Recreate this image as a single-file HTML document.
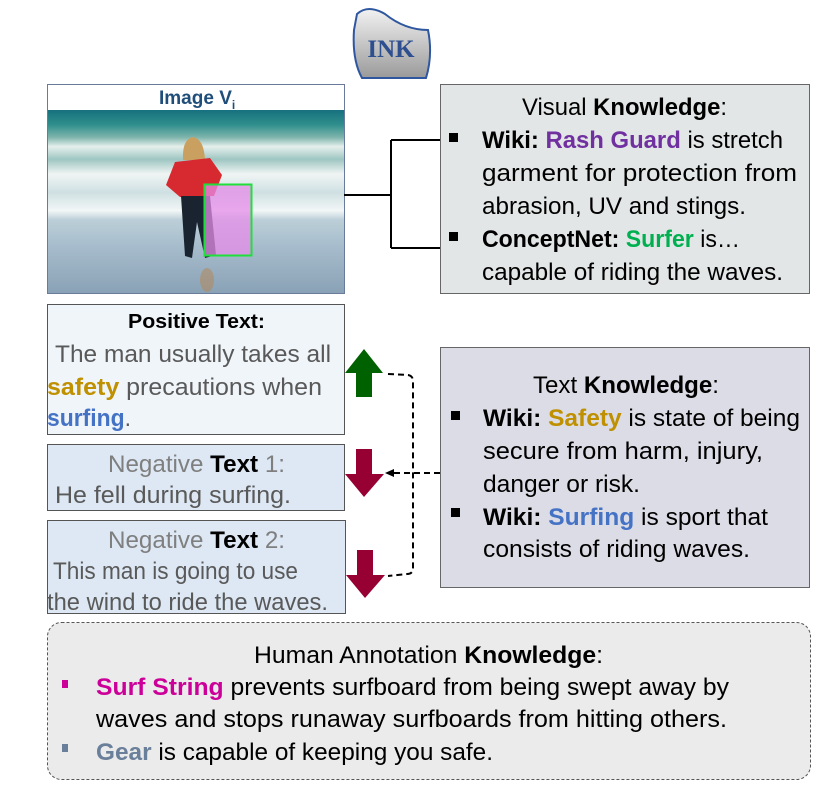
<!DOCTYPE html>
<html><head><meta charset="utf-8"><style>
html,body{margin:0;padding:0;background:#fff;}
svg{display:block;}
text{font-family:"Liberation Sans",sans-serif;}
</style></head><body>
<svg width="832" height="792" viewBox="0 0 832 792" xmlns="http://www.w3.org/2000/svg">
<defs>
<linearGradient id="ink" x1="0" y1="0" x2="0" y2="1"><stop offset="0" stop-color="#f2f2f2"/><stop offset="1" stop-color="#9a9a9a"/></linearGradient>
<linearGradient id="sea" x1="0" y1="0" x2="0" y2="1">
<stop offset="0" stop-color="#16707e"/><stop offset="0.08" stop-color="#2f8f8c"/><stop offset="0.15" stop-color="#7fb5ad"/><stop offset="0.2" stop-color="#e6efec"/><stop offset="0.27" stop-color="#9ec6c2"/><stop offset="0.35" stop-color="#f0f5f4"/><stop offset="0.45" stop-color="#cfe0e2"/><stop offset="0.55" stop-color="#f2f6f6"/><stop offset="0.6" stop-color="#bccfd8"/><stop offset="0.75" stop-color="#a6bccc"/><stop offset="1" stop-color="#8aa2b6"/></linearGradient>
</defs>
<!-- INK -->
<path d="M357,14 Q368,4 385,14 Q405,30 428,30 Q433,55 426,78 L362,78 Q352,60 354,30 Z" fill="url(#ink)" stroke="#2f57a0" stroke-width="2"/>
<text x="391" y="57" font-weight="bold" font-size="25" fill="#2e4f8f" text-anchor="middle" style="font-family:'Liberation Serif',serif">INK</text>

<!-- Image -->
<rect x="47.5" y="84.5" width="297" height="209" fill="#fff" stroke="#6a7a9a"/>
<text x="159" y="104" font-size="19" font-weight="bold" fill="#1f4e79">Image V<tspan font-size="12" dy="5">i</tspan></text>
<rect x="48" y="110" width="296" height="183" fill="url(#sea)"/>
<path d="M183,160 Q182,139 193,137 Q204,139 205,160 Z" fill="#c9a060"/>
<path d="M175,162 L210,158 L222,175 L214,196 L180,197 L166,185 Z" fill="#d62a30"/>
<path d="M181,196 L210,196 L216,255 L205,258 L197,222 L192,258 L185,256 Z" fill="#1a2430"/>
<ellipse cx="207" cy="280" rx="7" ry="12" fill="#b08a60" opacity="0.6"/>
<rect x="204.5" y="184.5" width="47" height="71" fill="#e68ce8" fill-opacity="0.75" stroke="#1fe03a" stroke-width="2"/>
<!-- connector -->
<path d="M344,195 H391 M391,140 V248 M391,140 H440 M391,248 H440" stroke="#000" stroke-width="2" fill="none"/>

<!-- Visual Knowledge -->
<rect x="440.5" y="84.5" width="369" height="209" fill="#e3e6e6" stroke="#666"/>
<text x="522" y="115" font-size="24" textLength="205" lengthAdjust="spacingAndGlyphs">Visual <tspan font-weight="bold">Knowledge</tspan>:</text>
<rect x="449" y="133" width="9" height="9" fill="#000"/>
<text x="482" y="148" font-size="24" textLength="301" lengthAdjust="spacingAndGlyphs"><tspan font-weight="bold">Wiki: </tspan><tspan font-weight="bold" fill="#7030a0">Rash Guard</tspan> is stretch</text>
<text x="482" y="181" font-size="24" textLength="315" lengthAdjust="spacingAndGlyphs">garment for protection from</text>
<text x="482" y="214" font-size="24" textLength="264" lengthAdjust="spacingAndGlyphs">abrasion, UV and stings.</text>
<rect x="449" y="232" width="9" height="9" fill="#000"/>
<text x="482" y="247" font-size="24" textLength="258" lengthAdjust="spacingAndGlyphs"><tspan font-weight="bold">ConceptNet: </tspan><tspan font-weight="bold" fill="#00b050">Surfer</tspan> is…</text>
<text x="482" y="280" font-size="24" textLength="301" lengthAdjust="spacingAndGlyphs">capable of riding the waves.</text>

<!-- Positive -->
<rect x="47.5" y="304.5" width="297" height="130" fill="#f0f5fa" stroke="#555"/>
<text x="128" y="328" font-size="20" font-weight="bold" textLength="137" lengthAdjust="spacingAndGlyphs">Positive Text:</text>
<text x="55" y="362" font-size="24" fill="#595959" textLength="276" lengthAdjust="spacingAndGlyphs">The man usually takes all</text>
<text x="47" y="395" font-size="24" fill="#595959" textLength="275" lengthAdjust="spacingAndGlyphs"><tspan font-weight="bold" fill="#bf9000">safety</tspan> precautions when</text>
<text x="47" y="426" font-size="24" fill="#595959" textLength="84" lengthAdjust="spacingAndGlyphs"><tspan font-weight="bold" fill="#4472c4">surfing</tspan>.</text>

<!-- Neg1 -->
<rect x="47.5" y="444.5" width="297" height="66" fill="#dde8f4" stroke="#555"/>
<text x="108" y="472" font-size="24" fill="#7f7f7f" textLength="177" lengthAdjust="spacingAndGlyphs">Negative <tspan font-weight="bold" fill="#000">Text</tspan> 1:</text>
<text x="55" y="503" font-size="24" fill="#595959" textLength="236" lengthAdjust="spacingAndGlyphs">He fell during surfing.</text>

<!-- Neg2 -->
<rect x="47.5" y="520.5" width="298" height="93" fill="#dde8f4" stroke="#555"/>
<text x="108" y="548" font-size="24" fill="#7f7f7f" textLength="177" lengthAdjust="spacingAndGlyphs">Negative <tspan font-weight="bold" fill="#000">Text</tspan> 2:</text>
<text x="53" y="579" font-size="24" fill="#595959" textLength="245" lengthAdjust="spacingAndGlyphs">This man is going to use</text>
<text x="47" y="610" font-size="24" fill="#595959" textLength="281" lengthAdjust="spacingAndGlyphs">the wind to ride the waves.</text>

<!-- arrows -->
<path d="M364,349 L383,373 L372,373 L372,397 L356,397 L356,373 L345,373 Z" fill="#006100"/>
<path d="M356,449 L372,449 L372,474 L384,474 L364,497 L345,474 L356,474 Z" fill="#970033"/>
<path d="M357,550 L373,550 L373,575 L385,575 L365,598 L346,575 L357,575 Z" fill="#970033"/>
<path d="M388,374 L408,375 Q413,376 413,381 L413,568 Q413,574 407,574 L388,576" stroke="#000" stroke-width="2" stroke-dasharray="6,4" fill="none"/>
<path d="M440,473 L392,473" stroke="#000" stroke-width="2" stroke-dasharray="6,4" fill="none"/>
<path d="M385,473 L394,469 L394,477 Z" fill="#000"/>

<!-- Text Knowledge -->
<rect x="440.5" y="347.5" width="369" height="240" fill="#dcdce6" stroke="#666"/>
<text x="533" y="393" font-size="24" textLength="186" lengthAdjust="spacingAndGlyphs">Text <tspan font-weight="bold">Knowledge</tspan>:</text>
<rect x="451" y="411" width="9" height="9" fill="#000"/>
<text x="483" y="426" font-size="24" textLength="317" lengthAdjust="spacingAndGlyphs"><tspan font-weight="bold">Wiki: </tspan><tspan font-weight="bold" fill="#bf9000">Safety</tspan> is state of being</text>
<text x="483" y="459" font-size="24" textLength="280" lengthAdjust="spacingAndGlyphs">secure from harm, injury,</text>
<text x="483" y="492" font-size="24" textLength="157" lengthAdjust="spacingAndGlyphs">danger or risk.</text>
<rect x="451" y="508" width="9" height="9" fill="#000"/>
<text x="483" y="525" font-size="24" textLength="285" lengthAdjust="spacingAndGlyphs"><tspan font-weight="bold">Wiki: </tspan><tspan font-weight="bold" fill="#4472c4">Surfing</tspan> is sport that</text>
<text x="483" y="557" font-size="24" textLength="267" lengthAdjust="spacingAndGlyphs">consists of riding waves.</text>

<!-- Human -->
<rect x="47.5" y="622.5" width="763" height="157" rx="14" fill="#ebebeb" stroke="#555" stroke-dasharray="3,2"/>
<text x="254" y="663" font-size="24" textLength="349" lengthAdjust="spacingAndGlyphs">Human Annotation <tspan font-weight="bold">Knowledge</tspan>:</text>
<rect x="62" y="680" width="6" height="8" fill="#cc0099"/>
<text x="96" y="695" font-size="24" textLength="633" lengthAdjust="spacingAndGlyphs"><tspan font-weight="bold" fill="#cc0099">Surf String</tspan> prevents surfboard from being swept away by</text>
<text x="96" y="727" font-size="24" textLength="631" lengthAdjust="spacingAndGlyphs">waves and stops runaway surfboards from hitting others.</text>
<rect x="62" y="744" width="6" height="8" fill="#6a7f9a"/>
<text x="96" y="760" font-size="24" textLength="397" lengthAdjust="spacingAndGlyphs"><tspan font-weight="bold" fill="#6a7f9a">Gear</tspan> is capable of keeping you safe.</text>
</svg>
</body></html>
